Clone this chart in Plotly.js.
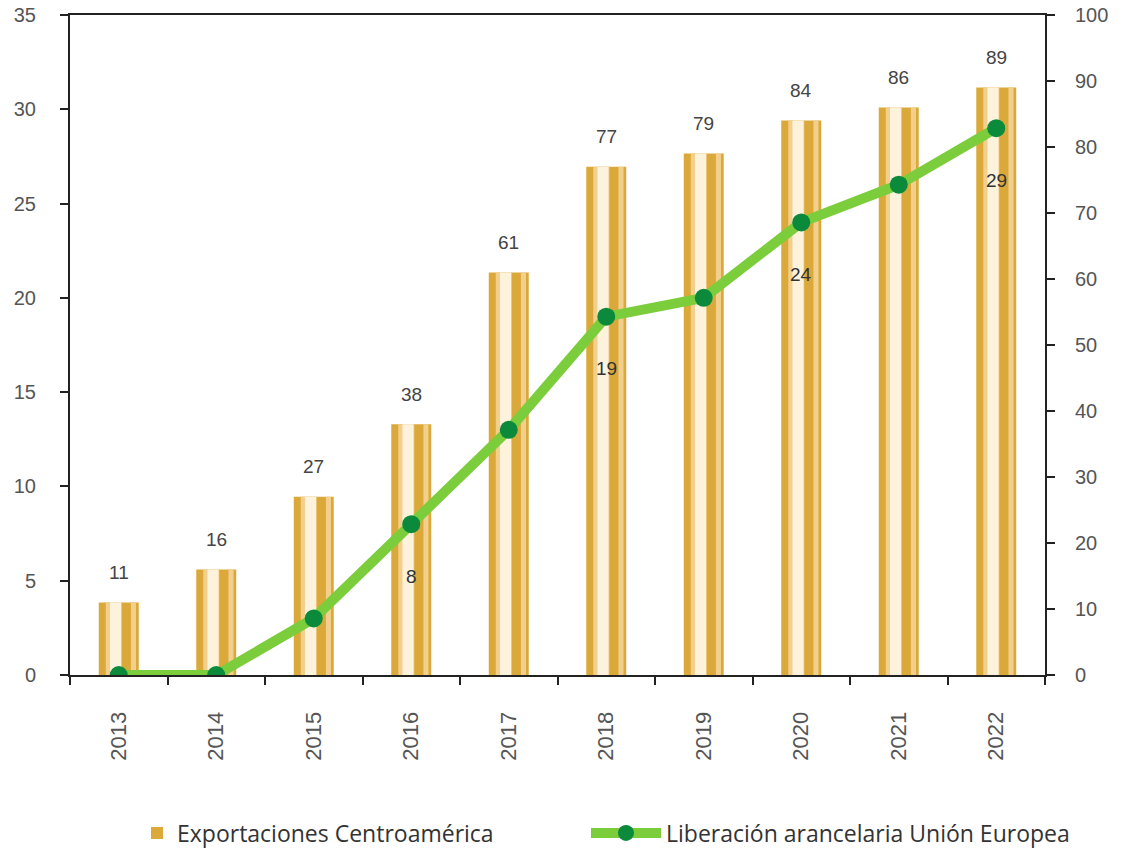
<!DOCTYPE html>
<html>
<head>
<meta charset="utf-8">
<script src="https://cdn.plot.ly/plotly-3.0.1.min.js"></script>
<style>html,body{margin:0;padding:0;background:#fff;}#chart{width:1127px;height:855px;}</style>
</head>
<body>
<div id="chart"></div>
<script>
// ---- data ----
const years = ['2013','2014','2015','2016','2017','2018','2019','2020','2021','2022'];
const exportaciones = [11, 16, 27, 38, 61, 77, 79, 84, 86, 89];      // right axis (0-100)
const liberacion = [0, 0, 3, 8, 13, 19, 20, 24, 26, 29];              // left axis (0-35)
const labeledYears = ['2016', '2018', '2020', '2022'];                // line points with a value label
const seriesNames = ['Exportaciones Centroamérica', 'Liberación arancelaria Unión Europea'];

// ---- styles ----
const gold = '#dba93a', peach = '#f3cf8d', cream = '#fdf3dd';
const BW = 0.41;

function stripe(offset, width, color, showlegend) {
  return {
    type: 'bar', x: years, y: exportaciones, yaxis: 'y',
    name: seriesNames[0], showlegend: showlegend, legendgroup: 'bars', legend: 'legend',
    offset: offset, width: width,
    marker: {color: color, line: {width: 0}},
    hoverinfo: showlegend ? 'x+y' : 'skip'
  };
}

const traces = [
  stripe(-BW/2, BW, gold, true),
  stripe(-0.133, 0.164, peach, false),
  stripe(-0.09, 0.113, cream, false),
  stripe(0.125, 0.052, peach, false),
  {
    type: 'scatter', mode: 'lines+markers', x: years, y: liberacion, yaxis: 'y2',
    name: seriesNames[1], legend: 'legend2',
    line: {color: '#7ccd3c', width: 10},
    marker: {color: '#0b8a3c', size: 18}
  }
];

const annotations = [];
years.forEach((yr, i) => {
  annotations.push({
    x: i, y: exportaciones[i], xref: 'x', yref: 'y',
    text: String(exportaciones[i]), showarrow: false,
    yanchor: 'middle', yshift: 30,
    font: {family: 'Liberation Sans, Arial, sans-serif', size: 19, color: '#444'}
  });
  if (labeledYears.includes(yr)) {
    annotations.push({
      x: i, y: liberacion[i], xref: 'x', yref: 'y2',
      text: String(liberacion[i]), showarrow: false,
      yanchor: 'middle', yshift: -52,
      font: {family: 'Liberation Sans, Arial, sans-serif', size: 19, color: '#333'}
    });
  }
});

const tickFont = {family: 'Liberation Sans, Arial, sans-serif', size: 20, color: '#555'};
const xTickFont = {family: 'Liberation Sans, Arial, sans-serif', size: 22, color: '#555'};
const legendFont = {family: 'Open Sans, sans-serif', size: 23, color: '#333'};

const layout = {
  width: 1127, height: 855,
  margin: {l: 70, r: 82, t: 15, b: 180, autoexpand: false},
  paper_bgcolor: '#fff', plot_bgcolor: '#fff',
  barmode: 'overlay',
  showlegend: true,
  legend: {
    orientation: 'h', xref: 'container', yref: 'container',
    x: 137 / 1127, xanchor: 'left', y: 1 - 833 / 855, yanchor: 'middle',
    font: legendFont, itemwidth: 30, bgcolor: 'rgba(0,0,0,0)'
  },
  legend2: {
    orientation: 'h', xref: 'container', yref: 'container',
    x: 586 / 1127, xanchor: 'left', y: 1 - 833 / 855, yanchor: 'middle',
    font: legendFont, itemwidth: 70, bgcolor: 'rgba(0,0,0,0)'
  },
  xaxis: {
    type: 'category', range: [-0.5, 9.5],
    showline: true, linecolor: '#222', linewidth: 2, mirror: true,
    ticks: 'outside', tickson: 'boundaries', ticklen: 8, tickcolor: '#222', tickwidth: 2,
    tickangle: -90, tickfont: xTickFont, showgrid: false, zeroline: false, ticklabelstandoff: 26
  },
  yaxis: {
    side: 'right', range: [0, 100], dtick: 10,
    showline: true, linecolor: '#222', linewidth: 2,
    ticks: 'outside', ticklen: 8, tickcolor: '#222', tickwidth: 2,
    tickfont: tickFont, showgrid: false, zeroline: false, ticklabelstandoff: 16
  },
  yaxis2: {
    side: 'left', overlaying: 'y', range: [0, 35], dtick: 5,
    showline: true, linecolor: '#222', linewidth: 2,
    ticks: 'outside', ticklen: 8, tickcolor: '#222', tickwidth: 2,
    tickfont: tickFont, showgrid: false, zeroline: false, ticklabelstandoff: 20
  },
  annotations: annotations
};

Plotly.newPlot('chart', traces, layout, {displayModeBar: false, staticPlot: true});
</script>
</body>
</html>
